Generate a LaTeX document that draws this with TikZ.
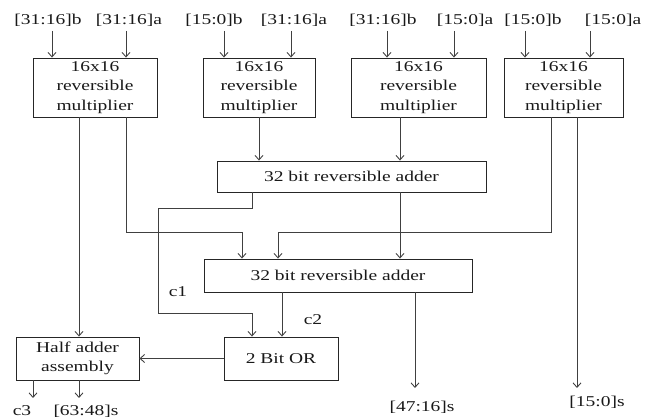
\documentclass[tikz,border=0pt]{standalone}
\usepackage{fontspec}
\setmainfont{Liberation Serif}[FakeStretch=1.3]
\usetikzlibrary{arrows.meta}
\begin{document}
\begin{tikzpicture}[x=1pt,y=-1pt,
  font=\fontsize{15}{19.5}\selectfont,
  blk/.style={draw=black!85, line width=0.9pt, inner sep=0pt, align=center, text=black!90},
  wire/.style={draw=black!75, line width=0.9pt},
  arr/.style={wire, -{Straight Barb[length=4.5pt,width=8pt]}},
  lbl/.style={inner sep=0pt, text=black!90}]
\useasboundingbox (0,0) rectangle (659,419);
% blocks
\node[blk, minimum width=124pt, minimum height=59pt] (m1) at (95,87.5) {16x16\\reversible\\multiplier};
\node[blk, minimum width=112pt, minimum height=59pt] (m2) at (259,87.5) {16x16\\reversible\\multiplier};
\node[blk, minimum width=135pt, minimum height=59pt] (m3) at (418.5,87.5) {16x16\\reversible\\multiplier};
\node[blk, minimum width=119pt, minimum height=59pt] (m4) at (563.5,87.5) {16x16\\reversible\\multiplier};
\node[blk, minimum width=269pt, minimum height=31pt] (a1) at (351.5,176.5) {32 bit reversible adder};
\node[blk, minimum width=268pt, minimum height=33pt] (a2) at (338,275.5) {32 bit reversible adder};
\node[blk, minimum width=114pt, minimum height=43pt] (or) at (281,358.5) {2 Bit OR};
\node[blk, minimum width=123pt, minimum height=43pt] (ha) at (77.5,358.5) {Half adder\\assembly};
% input labels
\node[lbl] (l1) at (48,20) {[31:16]b};
\node[lbl] (l2) at (129,20) {[31:16]a};
\node[lbl] (l3) at (214,20) {[15:0]b};
\node[lbl] (l4) at (294,20) {[31:16]a};
\node[lbl] (l5) at (383,20) {[31:16]b};
\node[lbl] (l6) at (465,20) {[15:0]a};
\node[lbl] (l7) at (533,20) {[15:0]b};
\node[lbl] (l8) at (613,20) {[15:0]a};
% input arrows
\coordinate (t1) at (52,31);
\coordinate (t2) at (126,31);
\coordinate (t3) at (224,31);
\coordinate (t4) at (291,31);
\coordinate (t5) at (387,31);
\coordinate (t6) at (454,31);
\coordinate (t7) at (525,31);
\coordinate (t8) at (590,31);
\draw[arr] (t1) -- (t1 |- m1.north);
\draw[arr] (t2) -- (t2 |- m1.north);
\draw[arr] (t3) -- (t3 |- m2.north);
\draw[arr] (t4) -- (t4 |- m2.north);
\draw[arr] (t5) -- (t5 |- m3.north);
\draw[arr] (t6) -- (t6 |- m3.north);
\draw[arr] (t7) -- (t7 |- m4.north);
\draw[arr] (t8) -- (t8 |- m4.north);
% x positions
\coordinate (x79) at (79,0);
\coordinate (x126) at (126,0);
\coordinate (x259) at (259,0);
\coordinate (x400) at (400,0);
\coordinate (x551) at (551,0);
\coordinate (x577) at (577,0);
\coordinate (x252) at (252,0);
\coordinate (x282) at (282,0);
\coordinate (x415) at (415,0);
\coordinate (x33) at (33,0);
\coordinate (j1) at (242,232);
\coordinate (j2) at (278,232);
\coordinate (k1) at (252,208);
\coordinate (k2) at (158,208);
\coordinate (k3) at (158,313);
\coordinate (k4) at (252,313);
\coordinate (o1) at (415,388);
\coordinate (o2) at (577,388);
\coordinate (o3) at (33,398);
\coordinate (o4) at (79,398);
% connectors
\draw[arr] (m1.south -| x79) -- (ha.north -| x79);
\draw[arr] (m1.south -| x126) |- (j1) -- (j1 |- a2.north);
\draw[arr] (m2.south -| x259) -- (a1.north -| x259);
\draw[arr] (m3.south -| x400) -- (a1.north -| x400);
\draw[arr] (m4.south -| x551) |- (j2) -- (j2 |- a2.north);
\draw[arr] (m4.south -| x577) -- (o2);
\draw[arr] (a1.south -| x400) -- (a2.north -| x400);
\draw[arr] (a1.south -| x252) -- (k1) -- (k2) -- (k3) -- (k4) -- (or.north -| k4);
\draw[arr] (a2.south -| x282) -- (or.north -| x282);
\draw[arr] (a2.south -| x415) -- (o1);
\draw[arr] (or.west) -- (ha.east);
\draw[arr] (ha.south -| x33) -- (o3);
\draw[arr] (ha.south -| x79) -- (o4);
% labels
\node[lbl] (c1) at (178,292) {c1};
\node[lbl] (c2) at (313,320) {c2};
\node[lbl] (s1) at (422,407) {[47:16]s};
\node[lbl] (s2) at (597,402) {[15:0]s};
\node[lbl] (c3) at (22,411) {c3};
\node[lbl] (s3) at (86,411) {[63:48]s};
\end{tikzpicture}
\end{document}
